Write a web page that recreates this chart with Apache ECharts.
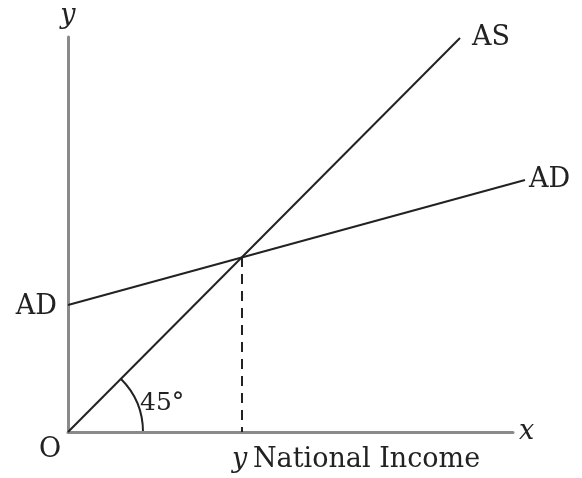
<!DOCTYPE html>
<html>
<head>
<meta charset="utf-8">
<script src="https://cdn.jsdelivr.net/npm/echarts@6/dist/echarts.min.js"></script>
<style>
  html, body { margin: 0; background: #fff; }
  #main { width: 582px; height: 478px; }
</style>
</head>
<body>
<div id="main"></div>
<script type="text/javascript">
// values in chart units (origin O = 0,0)
var asPoints = [[0, 0], [392, 394]];
var adPoints = [[0, 127], [457, 252]];
var equilibrium = [174, 175];
var axisXMax = 445;
var plotXMax = 457;
var yMax = 395;

var serif = '"DejaVu Serif", "Liberation Serif", serif';
var ink = '#222';
var axisGray = '#8a8a8a';

var myChart = echarts.init(document.getElementById('main'));

var hidden = { axisTick: { show: false }, axisLabel: { show: false }, splitLine: { show: false } };

var option = {
  backgroundColor: '#fff',
  animation: false,
  // grid 0 holds the curves, grid 1 only draws the axes (x axis is shorter than the AD line)
  grid: [
    { left: 68, right: 582 - 68 - plotXMax, top: 37, bottom: 46 },
    { left: 68, right: 582 - 68 - axisXMax, top: 37, bottom: 46 }
  ],
  xAxis: [
    Object.assign({ type: 'value', gridIndex: 0, min: 0, max: plotXMax, axisLine: { show: false } }, hidden),
    Object.assign({
      type: 'value', gridIndex: 1, min: 0, max: axisXMax,
      name: 'x', nameGap: 6,
      nameTextStyle: { fontFamily: serif, fontStyle: 'italic', fontSize: 27, color: ink, verticalAlign: 'middle' },
      axisLine: { lineStyle: { color: axisGray, width: 3 } }
    }, hidden)
  ],
  yAxis: [
    Object.assign({ type: 'value', gridIndex: 0, min: 0, max: yMax, axisLine: { show: false } }, hidden),
    Object.assign({
      type: 'value', gridIndex: 1, min: 0, max: yMax,
      name: 'y', nameGap: 8,
      nameTextStyle: { fontFamily: serif, fontStyle: 'italic', fontSize: 27, color: ink, align: 'center' },
      axisLine: { lineStyle: { color: axisGray, width: 3 } }
    }, hidden)
  ],
  series: [
    {
      name: 'AS', type: 'line', symbol: 'none',
      lineStyle: { color: ink, width: 2 },
      endLabel: { show: true, formatter: 'AS', fontFamily: serif, fontSize: 27, color: ink, distance: 12 },
      data: asPoints
    },
    {
      name: 'AD', type: 'line', symbol: 'none',
      lineStyle: { color: ink, width: 2 },
      endLabel: { show: true, formatter: 'AD', fontFamily: serif, fontSize: 27, color: ink, distance: 4 },
      data: adPoints
    },
    {
      type: 'line', symbol: 'none',
      lineStyle: { color: ink, width: 2, type: [10, 7] },
      data: [equilibrium, [equilibrium[0], 0]]
    }
  ]
};

myChart.setOption(option);

var o = myChart.convertToPixel({ gridIndex: 0 }, [0, 0]);
var e = myChart.convertToPixel({ gridIndex: 0 }, [equilibrium[0], 0]);
var a = myChart.convertToPixel({ gridIndex: 0 }, adPoints[0]);

myChart.setOption({
  graphic: [
    {
      type: 'arc',
      shape: { cx: o[0], cy: o[1], r: 75, startAngle: -Math.PI / 4, endAngle: 0, clockwise: true },
      style: { stroke: ink, lineWidth: 2, fill: null }
    },
    {
      type: 'text', x: a[0] - 11, y: a[1] + 2,
      style: { text: 'AD', font: '27px ' + serif, fill: ink, align: 'right', verticalAlign: 'middle' }
    },
    {
      type: 'text', x: o[0] + 72, y: o[1] - 29,
      style: { text: '45°', font: '25px ' + serif, fill: ink, verticalAlign: 'middle' }
    },
    {
      type: 'text', x: o[0] - 18, y: o[1] + 18,
      style: { text: 'O', font: '27px ' + serif, fill: ink, align: 'center', verticalAlign: 'middle' }
    },
    {
      type: 'text', x: e[0] - 10, y: e[1] + 28,
      style: {
        text: '{i|y}{s| }National Income',
        font: '27px ' + serif, fill: ink, verticalAlign: 'middle',
        rich: {
          i: { fontStyle: 'italic', fontFamily: serif, fontSize: 27, fill: ink },
          s: { fontFamily: serif, fontSize: 18 }
        }
      }
    }
  ]
});
</script>
</body>
</html>
